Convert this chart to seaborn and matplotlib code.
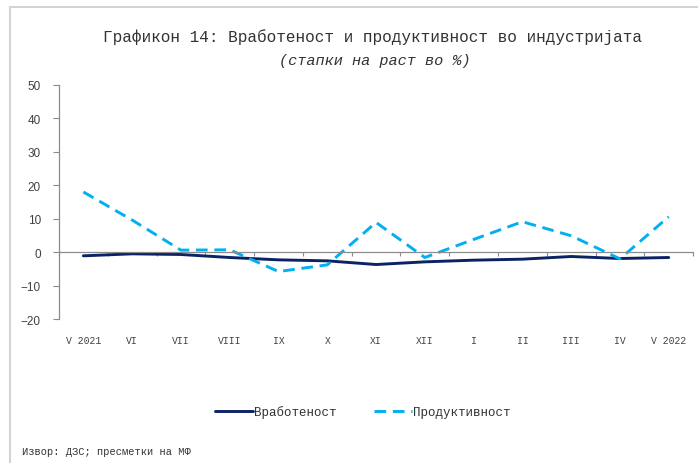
import matplotlib
matplotlib.use('Agg')
import matplotlib.pyplot as plt
import matplotlib.lines as mlines
import pandas as pd
import seaborn as sns

# Data
months = ['V 2021', 'VI', 'VII', 'VIII', 'IX', 'X', 'XI', 'XII', 'I', 'II', 'III', 'IV', 'V 2022']
employment = [-1.1, -0.5, -0.7, -1.6, -2.3, -2.6, -3.7, -2.9, -2.4, -2.1, -1.3, -1.9, -1.6]
productivity = [18.0, 9.6, 0.6, 0.7, -5.8, -3.8, 8.9, -1.6, 3.8, 9.1, 4.9, -2.0, 10.6]
series_names = ['Вработеност', 'Продуктивност']
y_ticks = [-20, -10, 0, 10, 20, 30, 40, 50]

sns.set_theme(style='white')
plt.rcParams['font.family'] = ['Liberation Mono', 'DejaVu Sans Mono']

df = pd.DataFrame({
    'pos': list(range(len(months))) * 2,
    'value': employment + productivity,
    'series': [series_names[0]] * len(months) + [series_names[1]] * len(months),
})

fig = plt.figure(figsize=(6.98, 4.64), dpi=100)
ax = fig.add_axes([0.0845, 0.3103, 0.9085, 0.5044])

sns.lineplot(data=df, x='pos', y='value', hue='series', style='series',
             palette={series_names[0]: '#0B2265', series_names[1]: '#00B0F0'},
             dashes={series_names[0]: '', series_names[1]: (4, 2.3)},
             linewidth=2.1, ax=ax, legend=False)

ax.set_xlim(-0.5, len(months) - 0.5)
ax.set_ylim(-20, 50)
ax.set_xlabel('')
ax.set_ylabel('')

# y axis
ax.set_yticks(y_ticks)
ax.set_yticklabels([str(v).replace('-', '\u2212') for v in y_ticks],
                   family='Liberation Sans', fontsize=8.5, color='#404040')
ax.tick_params(axis='y', direction='out', length=4, width=0.8, color='#8c8c8c', left=True, pad=9)

# x axis on the zero line, labels at the bottom
ax.spines['bottom'].set_position(('data', 0))
ax.set_xticks(range(len(months)))
ax.set_xticklabels(months, fontsize=7, color='#404040')
ax.set_xticks([i - 0.5 for i in range(len(months) + 1)], minor=True)
ax.tick_params(axis='x', which='major', length=0, pad=60)
ax.tick_params(axis='x', which='minor', direction='out', length=3, width=0.8,
               color='#8c8c8c', bottom=True)

for side in ['top', 'right']:
    ax.spines[side].set_visible(False)
for side in ['left', 'bottom']:
    ax.spines[side].set_color('#8c8c8c')
    ax.spines[side].set_linewidth(0.9)

# title
fig.text(0.533, 0.92, 'Графикон 14: Вработеност и продуктивност во индустријата',
         ha='center', va='center', fontsize=11.5, color='#333333')
fig.text(0.537, 0.868, '(стапки на раст во %)', ha='center', va='center',
         fontsize=11, style='italic', color='#333333')

# legend
handles = [mlines.Line2D([], [], color='#0B2265', lw=2.1),
           mlines.Line2D([], [], color='#00B0F0', lw=2.1, dashes=(4, 2.3))]
fig.legend(handles, series_names, loc='center', bbox_to_anchor=(0.52, 0.11), ncol=2,
           frameon=False, fontsize=9, handlelength=3.0, handletextpad=0.1,
           columnspacing=3.0, labelcolor='#333333')

# source note
fig.text(0.032, 0.025, 'Извор: ДЗС; пресметки на МФ', ha='left', va='center',
         fontsize=7.5, color='#333333')

# outer frame (top and left edges)
fig.add_artist(mlines.Line2D([0.015, 0.015], [0, 0.983], color='#d3d3d3', lw=1.5,
                             transform=fig.transFigure))
fig.add_artist(mlines.Line2D([0.015, 1.0], [0.983, 0.983], color='#d3d3d3', lw=1.5,
                             transform=fig.transFigure))

fig.savefig('out.png', dpi=100, facecolor='white')
